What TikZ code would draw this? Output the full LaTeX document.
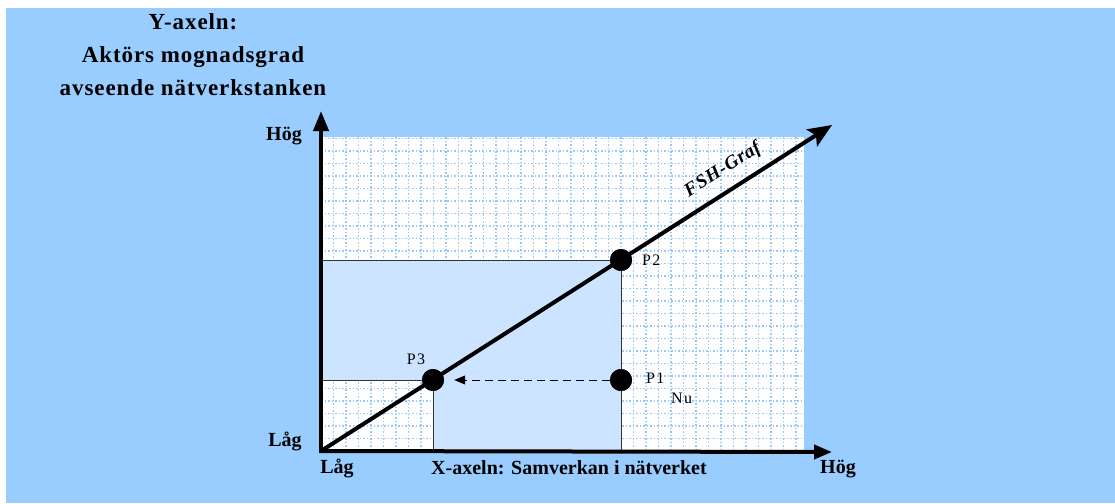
\documentclass[tikz,border=0pt]{standalone}
\usepackage{fontspec}
\setmainfont{Liberation Serif}
\usetikzlibrary{arrows.meta}
\definecolor{bgblue}{RGB}{153,204,255}
\definecolor{gridblue}{RGB}{150,200,250}
\definecolor{shadeblue}{RGB}{204,228,255}
\tikzset{
  axis/.style={line width=4pt},
  dot/.style={circle,fill=black,inner sep=0pt,minimum size=22pt},
  lbl/.style={font=\fontsize{20}{22}\selectfont\bfseries,inner sep=0pt},
  plbl/.style={font=\fontsize{16}{18}\selectfont\addfontfeature{LetterSpace=8},inner sep=0pt},
  guide/.style={line width=1pt,black!80},
}
\begin{document}
\begin{tikzpicture}[x=1pt,y=-1pt]
\useasboundingbox (0,0) rectangle (1115,503);
\fill[white] (0,0) rectangle (1115,503);
\fill[bgblue] (6,8) rectangle (1115,503);
% grid area
\fill[white] (321,137) rectangle (804,451);
\begin{scope}
\clip (321,137) rectangle (804,451);
\foreach \i in {1,...,39} {
  \draw[gridblue,line width=1.2pt,dash pattern=on 1.5pt off 2pt] (321+\i*12.5,137) -- (321+\i*12.5,451);
}
\foreach \j in {1,...,25} {
  \draw[gridblue,line width=1.2pt,dash pattern=on 1.5pt off 2pt] (321,451-\j*12.5) -- (804,451-\j*12.5);
}
\end{scope}
% shaded L region
\fill[shadeblue] (321,260) -- (621,260) -- (621,451) -- (433,451) -- (433,380) -- (321,380) -- cycle;
% points
\coordinate (O) at (321,451);
\coordinate (ytip) at (321,111);
\coordinate (xtip) at (832,452);
\coordinate (gtip) at (832,125);
\coordinate (yP2) at (321,260);
\coordinate (xP2) at (621,451);
\coordinate (yP3) at (321,380);
\coordinate (xP3) at (433,451);
\node[dot] (P2) at (621,260) {};
\node[dot] (P3) at (433,380) {};
\node[dot] (P1) at (621,380) {};
% guide lines
\draw[guide] (yP2) -- (P2.center) -- (xP2);
\draw[guide] (yP3) -- (P3.center) -- (xP3);
\draw[guide] (P1.center) -- (xP2);
% dashed arrow
\draw[line width=1pt,dash pattern=on 8pt off 5pt,-{Triangle[width=9pt,length=11pt]}] (P1.west) -- ([xshift=10pt]P3.east);
% axes
\draw[axis,-{Triangle[width=15pt,length=20pt]}] ([yshift=2pt]O) -- (ytip);
\draw[axis,-{Triangle[width=14pt,length=18pt]}] ([xshift=-2pt]O) -- (xtip);
\draw[axis,-{Stealth[width=20pt,length=24pt,inset=5pt]}] (O) -- (gtip);
\node[dot] at (P2) {};
\node[dot] at (P3) {};
\node[dot] at (P1) {};
% labels
\node[plbl,anchor=west] (lP2) at (642,260) {P2};
\node[plbl,anchor=west] (lP1) at (646,378) {P1};
\node[plbl,anchor=west] (lNu) at (671,398) {Nu};
\node[plbl] (lP3) at (416,359) {P3};
\node[rotate=32.5,inner sep=0pt,font=\fontsize{19}{20}\selectfont\itshape\bfseries\addfontfeature{LetterSpace=4}] (lg) at (723,170) {FSH-Graf};
\node[lbl] (yhog) at (284,136) {Hög};
\node[lbl] (ylag) at (285,441) {Låg};
\node[lbl] (xlag) at (337,468) {Låg};
\node[lbl] (xlab) at (569,468) {X-axeln: Samverkan i nätverket};
\node[lbl] (xhog) at (838,469) {Hög};
\node[lbl,align=center,font=\fontsize{23}{33}\selectfont\bfseries\addfontfeature{LetterSpace=4}] (ylab) at (193,55) {Y-axeln:\\Aktörs mognadsgrad\\avseende nätverkstanken};
\end{tikzpicture}
\end{document}
